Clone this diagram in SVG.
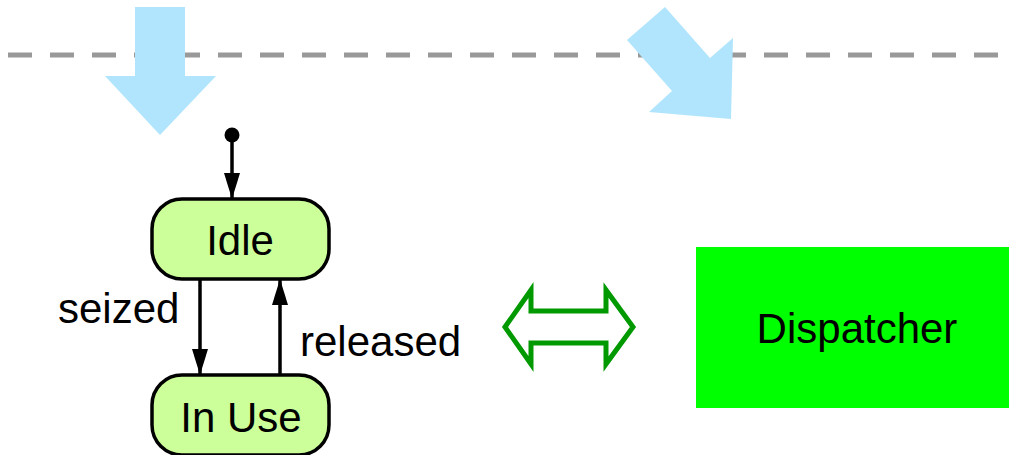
<svg xmlns="http://www.w3.org/2000/svg" width="1009" height="455" viewBox="0 0 1009 455">
<style>
.state{fill:#ccff99;stroke:#000;stroke-width:3.5}
.lbl{font-family:"Liberation Sans",Arial,sans-serif;font-size:42px;fill:#000}
.mid{text-anchor:middle}
.edge{stroke:#000;stroke-width:3.5;fill:none}
.big{fill:#b0e5fd}
</style>
<defs>
<marker id="ah" markerUnits="userSpaceOnUse" markerWidth="26" markerHeight="16" refX="25" refY="8" orient="auto" viewBox="0 0 26 16">
<path d="M0,0 L26,8 L0,16 Z" fill="#000"/>
</marker>
</defs>
<line x1="8" y1="55" x2="1000" y2="55" stroke="#999999" stroke-width="5" stroke-dasharray="24 18"/>
<polygon class="big" points="135,7 185,7 185,76 216,76 160,135 105,76 135,76"/>
<polygon class="big" points="665,7 710,58 733,38 731,119 649,112 672,91 627,40"/>
<g id="connectors">
<circle cx="232" cy="135" r="7.5" fill="#000"/>
<line class="edge" x1="232" y1="135" x2="232" y2="198" marker-end="url(#ah)"/>
<line class="edge" x1="200" y1="279" x2="200" y2="374" marker-end="url(#ah)"/>
<line class="edge" x1="280" y1="375" x2="280" y2="280" marker-end="url(#ah)"/>
<text class="lbl" x="58" y="323">seized</text>
<text class="lbl" x="300" y="356">released</text>
<polygon points="505,327 531,290 531,311 606,311 606,290 633,327 606,364 606,343 531,343 531,364" fill="#fff" stroke="#009900" stroke-width="5" stroke-linejoin="miter"/>
</g>
<g id="idle">
<rect class="state" x="152" y="199" width="177" height="80" rx="30"/>
<text class="lbl mid" x="240" y="255">Idle</text>
</g>
<g id="inuse">
<rect class="state" x="152" y="375" width="177" height="80" rx="30"/>
<text class="lbl mid" x="241" y="432">In Use</text>
</g>
<g id="dispatcher">
<rect x="696" y="247" width="320" height="161" fill="#00ff00"/>
<text class="lbl mid" x="857" y="343">Dispatcher</text>
</g>
</svg>
